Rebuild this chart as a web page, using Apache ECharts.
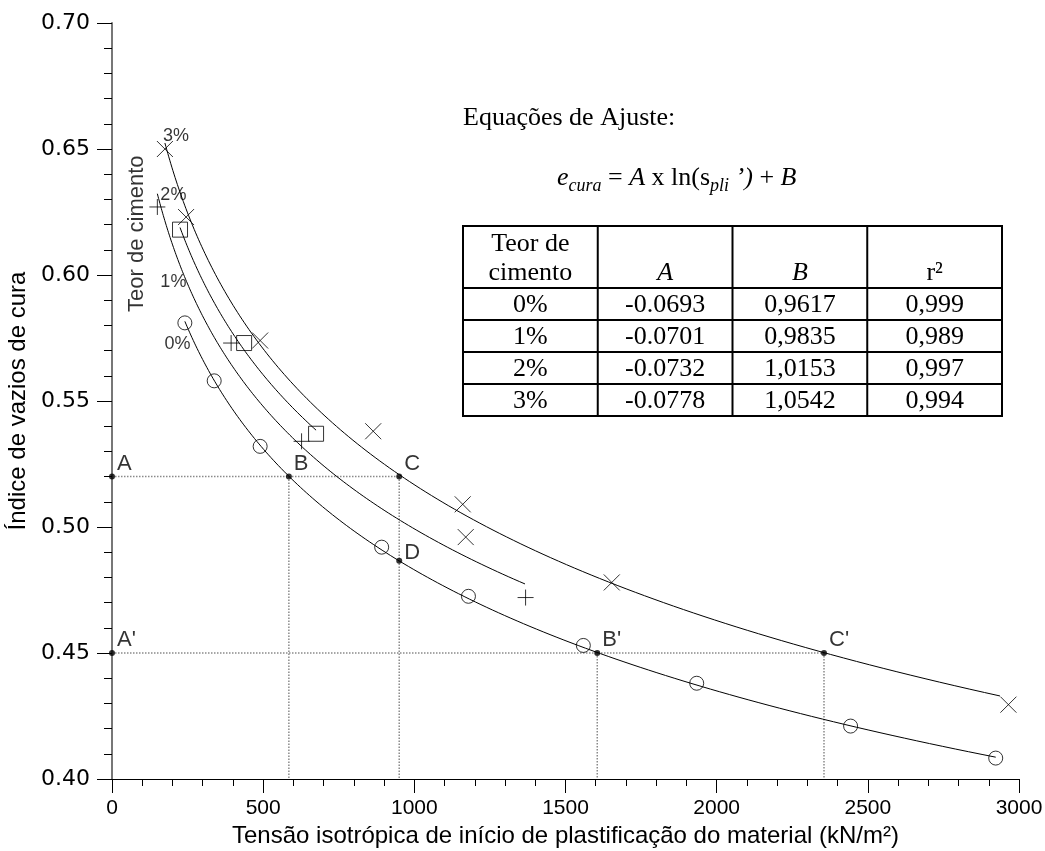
<!DOCTYPE html>
<html>
<head>
<meta charset="utf-8">
<title>Índice de vazios de cura</title>
<script src="https://cdn.jsdelivr.net/npm/echarts@6/dist/echarts.min.js"></script>
<style>
  html, body { margin: 0; padding: 0; background: #ffffff; }
  #chart { width: 1045px; height: 851px; }
</style>
</head>
<body>
<div id="chart"></div>
<script>
// Teores de cimento e coeficientes do ajuste e = A ln(s) + B
const teores = ['0%', '1%', '2%', '3%'];
const coefA = [-0.0693, -0.0701, -0.0732, -0.0778];
const coefB = [0.9617, 0.9835, 1.0153, 1.0542];
const coefR2 = [0.999, 0.989, 0.997, 0.994];

// Trecho (kN/m²) em que cada curva ajustada é traçada
const curveStart = [241, 150, 225, 175];
const curveEnd = [2923, 1366, 675, 2937];

// Pontos ensaiados [tensão, índice de vazios]
const pts0 = [[241, 0.581], [338, 0.558], [490, 0.532], [892, 0.492], [1179, 0.4725],
              [1559, 0.453], [1934, 0.438], [2443, 0.421], [2923, 0.4083]];
const pts1 = [[150, 0.627], [394, 0.573], [627, 0.534], [1368, 0.472]];
const pts2 = [[225, 0.618], [437, 0.573], [675, 0.537]];
const pts3 = [[175, 0.650], [245, 0.623], [490, 0.574], [864, 0.538], [1160, 0.509],
              [1170, 0.496], [1653, 0.478], [2965, 0.4295]];

// Pontos de leitura e linhas de chamada
const keyNames = ['A', 'B', 'C', 'D', "A'", "B'", "C'"];
const keyX = [0, 585, 950, 950, 0, 1605, 2355];
const keyY = [0.52, 0.52, 0.52, 0.4866, 0.45, 0.45, 0.45];
const guides = [
  [[0, 0.52], [950, 0.52]],
  [[585, 0.52], [585, 0.40]],
  [[950, 0.52], [950, 0.40]],
  [[0, 0.45], [2355, 0.45]],
  [[1605, 0.45], [1605, 0.40]],
  [[2355, 0.45], [2355, 0.40]]
];

// Rótulos dos teores junto às curvas
const pctX = [217, 203, 203, 212];
const pctY = [0.5727, 0.5971, 0.6319, 0.6553];
const pctText = ['0%', '1%', '2%', '3%'];

const xTitle = 'Tensão isotrópica de início de plastificação do material (kN/m²)';
const yTitle = 'Índice de vazios de cura';

function fitCurve(a, b, x0, x1) {
  const out = [];
  const n = 160;
  for (let i = 0; i <= n; i++) {
    const x = x0 * Math.pow(x1 / x0, i / n);
    out.push([x, a * Math.log(x) + b]);
  }
  return out;
}

const serif = "'Liberation Serif', 'Times New Roman', serif";
const sans = "'Liberation Sans', Arial, sans-serif";

const plusPath = 'path://M0,5L10,5M5,0L5,10';
const crossPath = 'path://M0,0L10,10M10,0L0,10';
const hidden = { color: 'rgba(0,0,0,0)', borderWidth: 0 };

const series = [];

guides.forEach(g => {
  series.push({
    type: 'line', data: g, symbol: 'none', silent: true, z: 1,
    lineStyle: { color: '#8a8a8a', width: 1.5, type: [1.5, 1.5] }
  });
});

for (let i = 0; i < 4; i++) {
  series.push({
    type: 'line', name: 'ajuste ' + teores[i], symbol: 'none', smooth: false, z: 2,
    data: fitCurve(coefA[i], coefB[i], curveStart[i], curveEnd[i]),
    lineStyle: { color: '#000', width: 1 }
  });
}

const markerStyle = { color: 'rgba(0,0,0,0)', borderColor: '#000', borderWidth: 1 };
series.push({ type: 'scatter', name: '0%', data: pts0, symbol: 'circle', symbolSize: 14, itemStyle: markerStyle, z: 3 });
series.push({ type: 'scatter', name: '1%', data: pts1, symbol: plusPath, symbolSize: 16, itemStyle: markerStyle, z: 3 });
series.push({ type: 'scatter', name: '2%', data: pts2, symbol: 'rect', symbolSize: 15, itemStyle: markerStyle, z: 3 });
series.push({ type: 'scatter', name: '3%', data: pts3, symbol: crossPath, symbolSize: 16, itemStyle: markerStyle, z: 3 });

// Pontos de leitura com rótulo
series.push({
  type: 'scatter', symbol: 'circle', symbolSize: 6, z: 4,
  itemStyle: { color: '#000' },
  data: keyNames.map((n, i) => ({
    name: n, value: [keyX[i], keyY[i]],
    label: n === 'D' ? { position: [8, 6] } : {}
  })),
  label: {
    show: true, formatter: '{b}', position: [8, 1],
    align: 'left', verticalAlign: 'bottom',
    fontFamily: sans, fontSize: 22, color: '#000'
  }
});

// Rótulos de teor
series.push({
  type: 'scatter', symbol: 'circle', symbolSize: 2, z: 4, silent: true,
  itemStyle: hidden,
  data: pctText.map((t, i) => ({ name: t, value: [pctX[i], pctY[i]] })),
  label: {
    show: true, formatter: '{b}', position: 'inside',
    fontFamily: sans, fontSize: 18, color: '#000'
  }
});
series.push({
  type: 'scatter', symbol: 'circle', symbolSize: 2, z: 4, silent: true,
  itemStyle: hidden,
  data: [{ name: 'Teor de cimento', value: [82, 0.6164] }],
  label: {
    show: true, formatter: '{b}', position: 'inside', rotate: 90,
    fontFamily: sans, fontSize: 22, color: '#000'
  }
});

// Tabela de equações (coordenadas de tela)
const tblL = 463, tblR = 1002, tblT = 226, hdrB = 288, rowH = 32;
const colW = (tblR - tblL) / 4;
const tblB = hdrB + rowH * 4;
const graphic = [];
graphic.push({
  type: 'rect', shape: { x: tblL, y: tblT, width: tblR - tblL, height: tblB - tblT },
  style: { fill: 'none', stroke: '#000', lineWidth: 2 }, z: 10
});
for (let r = 0; r < 4; r++) {
  const y = hdrB + rowH * r;
  graphic.push({ type: 'line', shape: { x1: tblL, y1: y, x2: tblR, y2: y }, style: { stroke: '#000', lineWidth: 2 }, z: 10 });
}
for (let c = 1; c < 4; c++) {
  const x = tblL + colW * c;
  graphic.push({ type: 'line', shape: { x1: x, y1: tblT, x2: x, y2: tblB }, style: { stroke: '#000', lineWidth: 2 }, z: 10 });
}
function cellText(txt, cx, cy, italic) {
  return {
    type: 'text', z: 11,
    style: {
      text: txt, x: cx, y: cy, textAlign: 'center', textVerticalAlign: 'middle',
      font: (italic ? 'italic ' : '') + '26px ' + serif, fill: '#000'
    }
  };
}
const colC = [0, 1, 2, 3].map(c => tblL + colW * (c + 0.5));
graphic.push(cellText('Teor de', colC[0], 244, false));
graphic.push(cellText('cimento', colC[0], 273, false));
graphic.push(cellText('A', colC[1], 273, true));
graphic.push(cellText('B', colC[2], 273, true));
graphic.push(cellText('r²', colC[3], 273, false));
for (let r = 0; r < 4; r++) {
  const cy = hdrB + rowH * r + rowH / 2 + 1;
  graphic.push(cellText(teores[r], colC[0], cy, false));
  graphic.push(cellText(coefA[r].toFixed(4), colC[1], cy, false));
  graphic.push(cellText(coefB[r].toFixed(4).replace('.', ','), colC[2], cy, false));
  graphic.push(cellText(coefR2[r].toFixed(3).replace('.', ','), colC[3], cy, false));
}

graphic.push({
  type: 'text', z: 11,
  style: { text: 'Equações de Ajuste:', x: 463, y: 118, textAlign: 'left', textVerticalAlign: 'middle',
           font: '26px ' + serif, fill: '#000' }
});

// Equação montada peça a peça (índices menores e rebaixados)
const measure = document.createElement('canvas').getContext('2d');
const eqParts = [
  { t: 'e', it: true, sub: false },
  { t: 'cura', it: true, sub: true },
  { t: ' = ', it: false, sub: false },
  { t: 'A', it: true, sub: false },
  { t: ' x ln(s', it: false, sub: false },
  { t: 'pli', it: true, sub: true },
  { t: ' ’)', it: true, sub: false },
  { t: ' + ', it: false, sub: false },
  { t: 'B', it: true, sub: false }
];
let ex = 557;
const eqMid = 178;
eqParts.forEach(p => {
  const size = p.sub ? 18 : 26;
  const font = (p.it ? 'italic ' : '') + size + 'px ' + serif;
  measure.font = font;
  graphic.push({
    type: 'text', z: 11,
    style: { text: p.t, x: ex, y: eqMid + (p.sub ? 8 : 0), textAlign: 'left', textVerticalAlign: 'middle', font: font, fill: '#000' }
  });
  ex += measure.measureText(p.t).width;
});

const chart = echarts.init(document.getElementById('chart'), null, { renderer: 'canvas' });
chart.setOption({
  animation: false,
  backgroundColor: '#fff',
  grid: { left: 112, right: 26, top: 23, bottom: 72, containLabel: false, outerBoundsMode: 'none' },
  xAxis: {
    type: 'value', min: 0, max: 3000, interval: 500,
    name: xTitle, nameLocation: 'middle', nameGap: 33,
    nameTextStyle: { fontFamily: sans, fontSize: 24, color: '#000', verticalAlign: 'top' },
    axisLine: { show: true, onZero: false, lineStyle: { color: '#000', width: 1 } },
    axisTick: { show: true, inside: false, length: 14, lineStyle: { color: '#000', width: 1 } },
    minorTick: { show: true, splitNumber: 5, length: 7, lineStyle: { color: '#000', width: 1 } },
    splitLine: { show: false },
    axisLabel: { fontFamily: sans, fontSize: 21, color: '#000', margin: 19, hideOverlap: false,
                 formatter: v => String(v) }
  },
  yAxis: {
    type: 'value', min: 0.40, max: 0.70, interval: 0.05,
    name: yTitle, nameLocation: 'middle', nameGap: 80, nameRotate: 90,
    nameTextStyle: { fontFamily: sans, fontSize: 24, color: '#000' },
    axisLine: { show: true, onZero: false, lineStyle: { color: '#777', width: 2 } },
    axisTick: { show: true, inside: false, length: 15, lineStyle: { color: '#000', width: 1 } },
    minorTick: { show: true, splitNumber: 5, length: 8, lineStyle: { color: '#000', width: 1 } },
    splitLine: { show: false },
    axisLabel: { fontFamily: "'DejaVu Sans', sans-serif", fontSize: 22, color: '#000', margin: 22,
                 formatter: v => v.toFixed(2), hideOverlap: false }
  },
  series: series,
  graphic: graphic
});
</script>
</body>
</html>
